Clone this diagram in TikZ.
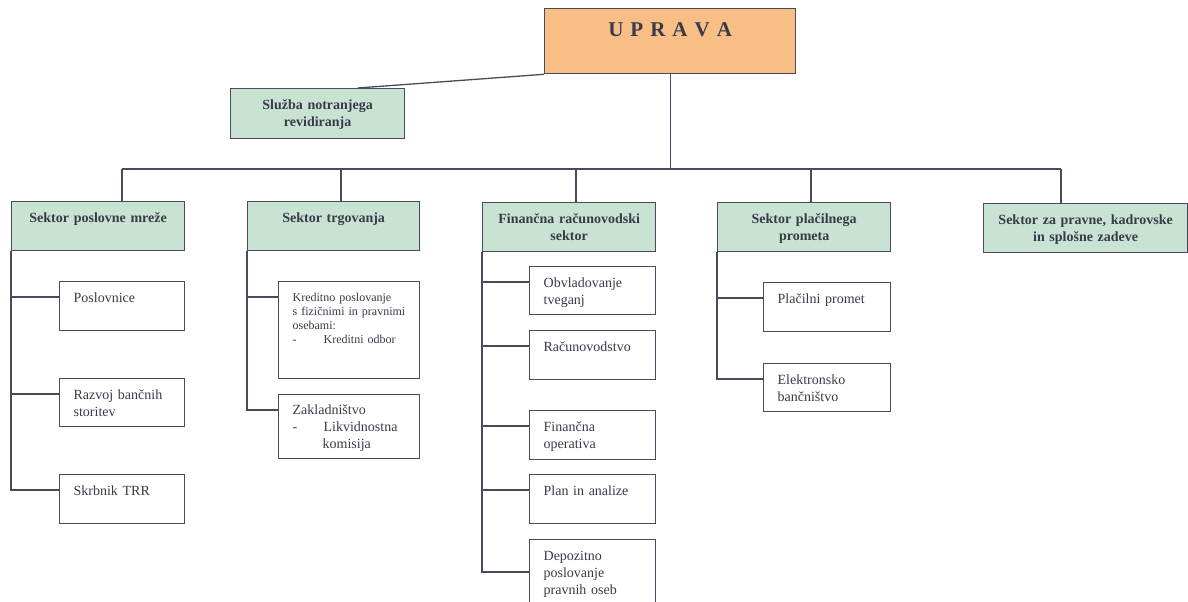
\documentclass[tikz,border=0pt]{standalone}
\usepackage{fontspec}
\setmainfont{Liberation Serif}

\definecolor{linec}{HTML}{4A4A5C}
\definecolor{txtc}{HTML}{3A3A4A}
\definecolor{headc}{HTML}{C8E3D2}
\definecolor{topc}{HTML}{F8BE85}

\begin{document}
\begin{tikzpicture}[x=1pt, y=-1pt,
	box/.style={draw=linec, line width=1.3pt, anchor=north west, inner ysep=0pt, text=txtc, text height=21pt},
	head/.style={box, fill=headc, inner xsep=4pt, align=center, font=\bfseries\fontsize{14}{17}\selectfont},
	unit/.style={box, fill=white, inner xsep=14pt, align=left, font=\fontsize{14}{17}\selectfont},
	wire/.style={draw=linec, line width=1.3pt}]
		\useasboundingbox (0,0) rectangle (1188,602);

		\node[head, fill=topc, text width=243pt, text height=28pt, text depth=37pt, font=\bfseries\fontsize{21}{25}\selectfont] (upr) at (544,8) {U P R A V A};
		\node[head, text width=166pt, text depth=29pt] (sluz) at (230,88) {Služba notranjega\\revidiranja};

		\node[head, text width=165pt, text depth=28pt] (h1) at (11,201) {Sektor poslovne mreže};
		\node[head, text width=164pt, text depth=28pt] (h2) at (247,201) {Sektor trgovanja};
		\node[head, text width=165pt, text depth=28pt] (h3) at (482,202) {Finančna računovodski\\sektor};
		\node[head, text width=165pt, text depth=28pt] (h4) at (717,202) {Sektor plačilnega\\prometa};
		\node[head, text width=196pt, text depth=28pt] (h5) at (983,203) {Sektor za pravne, kadrovske\\in splošne zadeve};

		% sektor poslovne mreze
		\node[unit, text width=97pt, text depth=28pt] (c1a) at (59,281) {Poslovnice};
		\node[unit, text width=97pt, text depth=27pt] (c1b) at (59,378) {Razvoj bančnih\\storitev};
		\node[unit, text width=97pt, text depth=28pt] (c1c) at (59,474) {Skrbnik TRR};

		% sektor trgovanja
		\node[unit, text width=113pt, text height=20pt, text depth=77pt, font=\fontsize{12}{14}\selectfont] (c2a) at (278,281) {Kreditno poslovanje\\s fizičnimi in pravnimi\\osebami:\\\makebox[31pt][l]{-}Kreditni odbor};
		\node[unit, text width=113pt, text height=20pt, text depth=44pt] (c2b) at (278,394) {Zakladništvo\\\makebox[31pt][l]{-}Likvidnostna\\\hspace*{30pt}komisija};

		% financno racunovodski sektor
		\node[unit, text width=98pt, text depth=27pt] (c3a) at (529,266) {Obvladovanje\\tveganj};
		\node[unit, text width=98pt, text depth=28pt] (c3b) at (529,330) {Računovodstvo};
		\node[unit, text width=98pt, text depth=28pt] (c3c) at (529,410) {Finančna\\operativa};
		\node[unit, text width=98pt, text depth=28pt] (c3d) at (529,474) {Plan in analize};
		\node[unit, text width=98pt, text depth=60pt] (c3e) at (529,539) {Depozitno\\poslovanje\\pravnih oseb};

		% sektor placilnega prometa
		\node[unit, text width=99pt, text depth=28pt] (c4a) at (763,282) {Plačilni promet};
		\node[unit, text width=99pt, text depth=27pt] (c4b) at (763,363) {Elektronsko\\bančništvo};

		\coordinate (s1) at (122,169);
		\coordinate (s2) at (341,169);
		\coordinate (s3) at (576,169);
		\coordinate (s4) at (811,169);
		\coordinate (s5) at (1061,169);

		\path[wire] (upr.south west) -- ([xshift=40pt]sluz.north);
		\path[wire] (upr.south) -- (upr.south |- s1);
		\path[wire] (s1) -- (s5);
		\foreach \s/\h in {s1/h1, s2/h2, s3/h3, s4/h4, s5/h5}
			\path[wire] (\s) -- (\s |- \h.north);

		\foreach \c in {c1a, c1b, c1c}
			\path[wire] (h1.south west) |- ([yshift=-16pt]\c.north west);
		\foreach \c in {c2a, c2b}
			\path[wire] (h2.south west) |- ([yshift=-16pt]\c.north west);
		\foreach \c in {c3a, c3b, c3c, c3d}
			\path[wire] (h3.south west) |- ([yshift=-16pt]\c.north west);
		\path[wire] (h3.south west) |- ([yshift=-33pt]c3e.north west);
		\foreach \c in {c4a, c4b}
			\path[wire] (h4.south west) |- ([yshift=-16pt]\c.north west);
	\end{tikzpicture}
\end{document}
